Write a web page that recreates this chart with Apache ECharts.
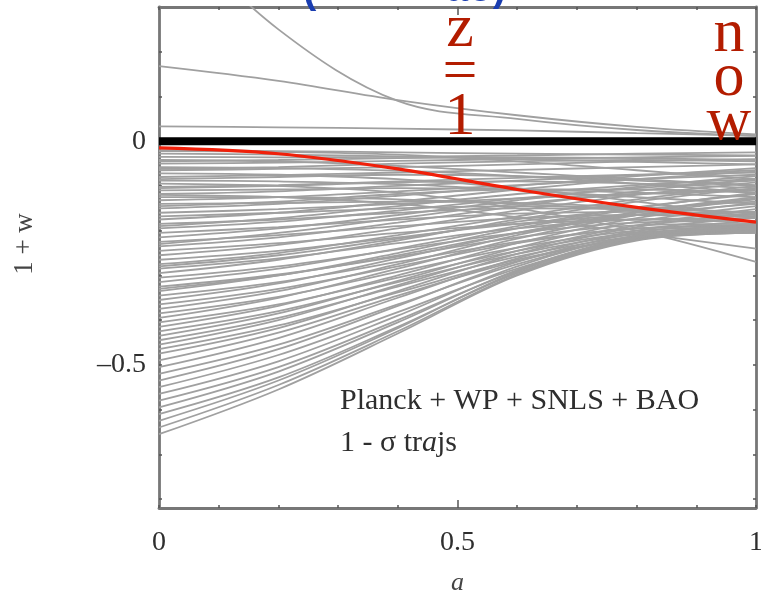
<!DOCTYPE html>
<html>
<head>
<meta charset="utf-8">
<script src="https://cdn.jsdelivr.net/npm/echarts@6/dist/echarts.min.js"></script>
<style>
  html, body { margin: 0; padding: 0; background: #ffffff; }
  #chart { width: 761px; height: 594px; }
</style>
</head>
<body>
<div id="chart"></div>
<script>
// Scale factor a at which every trajectory is sampled
const aGrid = [0, 0.2, 0.4, 0.6, 0.8, 1];

// 1 + w trajectories lying above the cosmological-constant line
const upperTrajs = [
  [0.50, 0.25, 0.090, 0.050, 0.025, 0.012],
  [0.168, 0.135, 0.092, 0.058, 0.032, 0.015],
  [0.033, 0.031, 0.028, 0.024, 0.018, 0.012]
];

// trajectories starting close to w = -1
const shallowTrajs = [
  [-0.020, -0.022, -0.025, -0.028, -0.030, -0.032],
  [-0.022, -0.024, -0.030, -0.045, -0.065, -0.085],
  [-0.028, -0.030, -0.034, -0.040, -0.046, -0.052],
  [-0.035, -0.036, -0.035, -0.032, -0.028, -0.025],
  [-0.042, -0.045, -0.055, -0.070, -0.085, -0.098],
  [-0.045, -0.042, -0.038, -0.036, -0.038, -0.042],
  [-0.050, -0.048, -0.044, -0.040, -0.036, -0.033],
  [-0.058, -0.060, -0.066, -0.078, -0.095, -0.115],
  [-0.062, -0.058, -0.050, -0.045, -0.042, -0.045],
  [-0.065, -0.062, -0.058, -0.052, -0.045, -0.040],
  [-0.072, -0.075, -0.085, -0.105, -0.135, -0.170],
  [-0.080, -0.076, -0.070, -0.064, -0.058, -0.052],
  [-0.085, -0.080, -0.075, -0.078, -0.088, -0.100],
  [-0.088, -0.090, -0.096, -0.110, -0.125, -0.140],
  [-0.095, -0.100, -0.115, -0.150, -0.200, -0.270],
  [-0.102, -0.098, -0.090, -0.082, -0.075, -0.070],
  [-0.105, -0.100, -0.092, -0.090, -0.095, -0.105],
  [-0.110, -0.108, -0.105, -0.108, -0.115, -0.125],
  [-0.118, -0.112, -0.100, -0.088, -0.076, -0.065],
  [-0.120, -0.125, -0.140, -0.170, -0.205, -0.240],
  [-0.125, -0.125, -0.130, -0.140, -0.155, -0.170],
  [-0.132, -0.125, -0.112, -0.098, -0.085, -0.075],
  [-0.140, -0.138, -0.135, -0.138, -0.148, -0.160],
  [-0.145, -0.135, -0.118, -0.108, -0.108, -0.115],
  [-0.150, -0.140, -0.122, -0.100, -0.078, -0.060]
];

// trajectories starting at intermediate 1 + w
const midTrajs = [
  [-0.160, -0.152, -0.140, -0.128, -0.118, -0.110],
  [-0.168, -0.160, -0.150, -0.145, -0.150, -0.160],
  [-0.175, -0.160, -0.135, -0.108, -0.085, -0.068],
  [-0.185, -0.175, -0.160, -0.150, -0.152, -0.160],
  [-0.190, -0.172, -0.145, -0.118, -0.098, -0.085],
  [-0.195, -0.180, -0.155, -0.128, -0.105, -0.088],
  [-0.205, -0.192, -0.175, -0.162, -0.158, -0.165],
  [-0.215, -0.195, -0.165, -0.132, -0.102, -0.078],
  [-0.225, -0.210, -0.190, -0.172, -0.165, -0.168],
  [-0.230, -0.205, -0.172, -0.140, -0.118, -0.108],
  [-0.235, -0.215, -0.182, -0.145, -0.112, -0.085],
  [-0.245, -0.228, -0.205, -0.185, -0.175, -0.178],
  [-0.255, -0.232, -0.195, -0.155, -0.120, -0.092],
  [-0.265, -0.245, -0.215, -0.185, -0.165, -0.158],
  [-0.275, -0.250, -0.210, -0.168, -0.130, -0.100],
  [-0.280, -0.255, -0.218, -0.180, -0.152, -0.135],
  [-0.285, -0.262, -0.228, -0.195, -0.175, -0.172],
  [-0.295, -0.265, -0.222, -0.175, -0.135, -0.105],
  [-0.305, -0.280, -0.242, -0.205, -0.182, -0.178],
  [-0.315, -0.285, -0.240, -0.190, -0.148, -0.118],
  [-0.325, -0.298, -0.258, -0.215, -0.188, -0.185],
  [-0.330, -0.300, -0.255, -0.205, -0.165, -0.140],
  [-0.335, -0.300, -0.250, -0.195, -0.150, -0.115],
  [-0.345, -0.315, -0.270, -0.225, -0.195, -0.190]
];

// trajectories starting deep below w = -1
const deepTrajs = [
  [-0.355, -0.318, -0.262, -0.205, -0.158, -0.125],
  [-0.365, -0.330, -0.280, -0.228, -0.195, -0.188],
  [-0.375, -0.335, -0.275, -0.210, -0.160, -0.128],
  [-0.385, -0.348, -0.292, -0.238, -0.200, -0.192],
  [-0.395, -0.350, -0.285, -0.218, -0.165, -0.130],
  [-0.405, -0.365, -0.305, -0.245, -0.205, -0.195],
  [-0.415, -0.368, -0.300, -0.228, -0.172, -0.138],
  [-0.425, -0.380, -0.315, -0.252, -0.208, -0.198],
  [-0.435, -0.385, -0.312, -0.238, -0.180, -0.145],
  [-0.445, -0.395, -0.325, -0.258, -0.212, -0.200],
  [-0.455, -0.400, -0.322, -0.245, -0.188, -0.152],
  [-0.465, -0.412, -0.338, -0.265, -0.215, -0.202],
  [-0.475, -0.418, -0.335, -0.252, -0.192, -0.160],
  [-0.490, -0.428, -0.345, -0.268, -0.215, -0.200],
  [-0.505, -0.440, -0.350, -0.262, -0.200, -0.170],
  [-0.520, -0.455, -0.365, -0.275, -0.212, -0.195],
  [-0.535, -0.465, -0.368, -0.270, -0.205, -0.178],
  [-0.550, -0.478, -0.382, -0.285, -0.218, -0.200],
  [-0.565, -0.492, -0.390, -0.280, -0.210, -0.185],
  [-0.580, -0.505, -0.400, -0.290, -0.215, -0.198],
  [-0.595, -0.515, -0.405, -0.288, -0.212, -0.190],
  [-0.610, -0.528, -0.415, -0.295, -0.218, -0.202],
  [-0.625, -0.535, -0.418, -0.292, -0.215, -0.195],
  [-0.640, -0.545, -0.425, -0.298, -0.220, -0.205],
  [-0.655, -0.555, -0.430, -0.300, -0.222, -0.205]
];

// highlighted trajectory and the w = -1 reference
const redTraj = [-0.015, -0.028, -0.062, -0.108, -0.148, -0.181];
const lambdaLine = [0, 0, 0, 0, 0, 0];

// axis ticks and labels
const xTickValues = [0, 0.1, 0.2, 0.3, 0.4, 0.5, 0.6, 0.7, 0.8, 0.9, 1];
const xLabelValues = [0, 0.5, 1];
const xMajorTicks = [0.5];
const yTickValues = [-0.8, -0.7, -0.6, -0.5, -0.4, -0.3, -0.2, -0.1, 0, 0.1, 0.2];
const yLabelValues = [-0.5, 0];

const SERIF = '"Liberation Serif", "DejaVu Serif", serif';
const FRAME = '#777777';
const INK = '#2e2e2e';

function toPairs(vals) {
  return aGrid.map((a, i) => [a, vals[i]]);
}

function grayLine(vals) {
  return {
    type: 'line',
    data: toPairs(vals),
    smooth: 0.35,
    showSymbol: false,
    silent: true,
    clip: true,
    lineStyle: { color: '#a0a0a0', width: 1.8 },
    z: 2
  };
}

const series = []
  .concat(upperTrajs, shallowTrajs, midTrajs, deepTrajs)
  .map(grayLine);

series.push({
  type: 'line',
  data: toPairs(redTraj),
  smooth: 0.35,
  showSymbol: false,
  silent: true,
  lineStyle: { color: '#f0200a', width: 3.2 },
  z: 4
});
series.push({
  type: 'line',
  data: toPairs(lambdaLine),
  showSymbol: false,
  silent: true,
  lineStyle: { color: '#000000', width: 8, cap: 'butt' },
  z: 5
});

function fmt(v) {
  if (v < 0) return '\u2013' + String(Math.abs(v));
  return String(v);
}

const tickStyle = { color: '#555555', width: 1.5 };

function frameAxis(position, extra) {
  return Object.assign({
    type: 'value', position: position,
    axisLine: { show: true, onZero: false, lineStyle: { color: FRAME, width: 2.8 } },
    axisTick: { show: true, inside: true, length: 3, lineStyle: tickStyle },
    axisLabel: { show: false },
    splitLine: { show: false }
  }, extra);
}

const option = {
  animation: false,
  backgroundColor: '#ffffff',
  grid: { left: 159, top: 7, width: 597, height: 501, containLabel: false, outerBoundsMode: 'none' },
  xAxis: [
    frameAxis('bottom', {
      min: 0, max: 1,
      name: 'a', nameLocation: 'middle', nameGap: 62,
      nameTextStyle: { fontFamily: SERIF, fontStyle: 'italic', fontSize: 26, color: '#444444' },
      axisTick: { show: true, inside: true, length: 3, customValues: xTickValues, lineStyle: tickStyle },
      axisLabel: { show: true, customValues: xLabelValues, formatter: fmt, margin: 21,
        fontFamily: SERIF, fontSize: 28, color: INK }
    }),
    frameAxis('top', {
      min: 0, max: 1,
      axisTick: { show: true, inside: true, length: 3, customValues: xTickValues, lineStyle: tickStyle }
    }),
    frameAxis('bottom', {
      min: 0, max: 1, offset: 0,
      axisLine: { show: false, onZero: false },
      axisTick: { show: true, inside: true, length: 8, customValues: xMajorTicks, lineStyle: tickStyle }
    }),
    frameAxis('top', {
      min: 0, max: 1, offset: 0,
      axisLine: { show: false, onZero: false },
      axisTick: { show: true, inside: true, length: 8, customValues: xMajorTicks, lineStyle: tickStyle }
    })
  ],
  yAxis: [
    frameAxis('left', {
      min: -0.82, max: 0.3,
      axisTick: { show: true, inside: true, length: 3, customValues: yTickValues, lineStyle: tickStyle },
      axisLabel: { show: true, customValues: yLabelValues, formatter: fmt, margin: 13,
        fontFamily: SERIF, fontSize: 28, color: INK }
    }),
    frameAxis('right', {
      min: -0.82, max: 0.3,
      axisTick: { show: true, inside: true, length: 3, customValues: yTickValues, lineStyle: tickStyle }
    })
  ],
  series: series,
  graphic: [
    {
      type: 'text', x: 25, y: 244, rotation: Math.PI / 2, z: 10,
      style: { text: '1 + w', font: '27px ' + SERIF, fill: '#444444',
        align: 'center', verticalAlign: 'middle' }
    },
    {
      type: 'text', left: 340, top: 386, z: 10,
      style: { text: 'Planck + WP + SNLS + BAO', font: '30px ' + SERIF, fill: INK }
    },
    {
      type: 'text', left: 340, top: 428, z: 10,
      style: {
        text: '{n|1 - \u03c3 tr}{i|a}{n|js}',
        rich: {
          n: { fontFamily: SERIF, fontSize: 30, fill: INK },
          i: { fontFamily: SERIF, fontSize: 30, fontStyle: 'italic', fill: INK }
        }
      }
    },
    {
      type: 'text', x: 460, y: 8, z: 10,
      style: { text: 'z\n=\n1', font: '62px ' + SERIF, fill: '#b31c00',
        align: 'center', verticalAlign: 'top', lineHeight: 44 }
    },
    {
      type: 'text', x: 729, y: 13, z: 10,
      style: { text: 'n\no\nw', font: '62px ' + SERIF, fill: '#b31c00',
        align: 'center', verticalAlign: 'top', lineHeight: 44 }
    },
    {
      type: 'text', x: 303, y: -28, z: 10,
      style: { text: '(', font: 'bold 40px "Liberation Sans", Arial, sans-serif', fill: '#1a3db0' }
    },
    {
      type: 'text', x: 446, y: -30, z: 10,
      style: { text: 'ao)', font: 'bold 40px "Liberation Sans", Arial, sans-serif', fill: '#1a3db0' }
    }
  ]
};

const chart = echarts.init(document.getElementById('chart'), null, { renderer: 'canvas' });
chart.setOption(option);
</script>
</body>
</html>
